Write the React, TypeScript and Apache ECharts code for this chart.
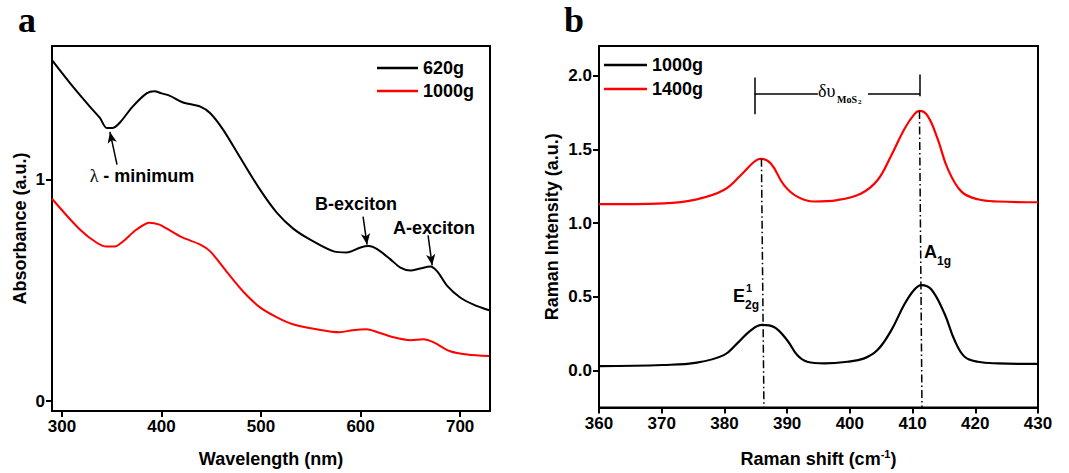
import React, { useEffect, useRef } from "react";
import * as echarts from "echarts";

// Panel a: UV-vis absorbance
const uvX620 = [290, 311, 328, 338, 345, 351, 358, 371, 385, 393, 400, 408, 421, 439, 449, 462, 479, 499, 516, 532, 549, 573, 586, 600, 608, 617, 630, 640, 650, 660, 670, 677, 687, 700, 713, 729];
const uvY620 = [1.54, 1.42, 1.33, 1.28, 1.234, 1.234, 1.257, 1.33, 1.39, 1.40, 1.39, 1.38, 1.35, 1.33, 1.30, 1.225, 1.10, 0.955, 0.85, 0.78, 0.73, 0.676, 0.671, 0.694, 0.70, 0.685, 0.64, 0.603, 0.59, 0.599, 0.608, 0.586, 0.52, 0.468, 0.437, 0.41];
const uvX1000 = [290, 318, 335, 345, 353, 361, 375, 388, 398, 405, 421, 439, 449, 466, 482, 499, 516, 532, 556, 579, 592, 606, 617, 633, 650, 663, 673, 690, 707, 729];
const uvY1000 = [0.914, 0.775, 0.715, 0.698, 0.698, 0.72, 0.775, 0.806, 0.797, 0.78, 0.739, 0.707, 0.676, 0.581, 0.495, 0.423, 0.378, 0.347, 0.324, 0.311, 0.32, 0.324, 0.311, 0.288, 0.275, 0.279, 0.266, 0.225, 0.21, 0.203];
const uvXTicks = [300, 400, 500, 600, 700];
const uvYTicks = [0, 1];

// Panel b: Raman spectra
const ramanX1000 = [360, 370.2, 375.6, 379.9, 382.0, 384.2, 386.0, 387.9, 390.0, 391.6, 393.2, 395.9, 399.6, 402.3, 404.4, 406.6, 408.7, 410.3, 411.4, 413.0, 415.1, 416.7, 418.3, 420.4, 423.6, 430];
const ramanY1000 = [0.03, 0.038, 0.054, 0.105, 0.183, 0.273, 0.31, 0.295, 0.206, 0.105, 0.06, 0.049, 0.06, 0.083, 0.139, 0.273, 0.45, 0.55, 0.58, 0.55, 0.385, 0.206, 0.094, 0.06, 0.049, 0.045];
const ramanX1400 = [360, 370.3, 375.6, 379.9, 382.6, 384.7, 385.8, 387.4, 389.5, 391.6, 394.3, 398.0, 401.8, 404.4, 406.6, 408.7, 410.3, 411.1, 412.4, 414.0, 415.6, 417.8, 420.4, 423.6, 430];
const ramanY1400 = [1.128, 1.134, 1.161, 1.224, 1.324, 1.414, 1.436, 1.403, 1.257, 1.179, 1.146, 1.156, 1.201, 1.29, 1.458, 1.638, 1.738, 1.76, 1.727, 1.57, 1.369, 1.213, 1.161, 1.146, 1.141];
const ramanYTicks = [0, 0.5, 1, 1.5, 2];

const zip = (xs: number[], ys: number[]) => xs.map((x, i) => [x, ys[i]]);

const FONT = "Liberation Sans";
const BLACK = "#000000";
const RED = "#ff0000";

function axisCommon() {
  return {
    axisLine: { show: true, onZero: false, lineStyle: { color: BLACK, width: 2 } },
    axisTick: { show: true, inside: false, length: 6, lineStyle: { color: BLACK, width: 2 } },
    splitLine: { show: false },
    axisLabel: { color: BLACK, fontWeight: "bold", fontSize: 17, fontFamily: FONT, margin: 7 },
    nameTextStyle: { color: BLACK, fontWeight: "bold", fontSize: 18, fontFamily: FONT },
    nameLocation: "middle",
  } as any;
}

const legendText = { color: BLACK, fontWeight: "bold", fontSize: 18, fontFamily: FONT, lineHeight: 18 };

export default function App() {
  const ref = useRef<HTMLDivElement>(null);
  useEffect(() => {
    if (!ref.current) return;
    const chart = echarts.init(ref.current, null, { renderer: "svg" });
    const c = axisCommon();
    const option: any = {
      animation: false,
      backgroundColor: "#ffffff",
      grid: [
        { left: 52, top: 46, width: 438, height: 366, show: true, borderColor: BLACK, borderWidth: 2, backgroundColor: "transparent" },
        { left: 599, top: 46, width: 439, height: 365, show: true, borderColor: BLACK, borderWidth: 2, backgroundColor: "transparent" },
      ],
      xAxis: [
        {
          ...c, type: "value", gridIndex: 0, min: 290, max: 730,
          axisTick: { ...c.axisTick, customValues: uvXTicks },
          axisLabel: { ...c.axisLabel, customValues: uvXTicks },
          name: "Wavelength (nm)", nameGap: 39,
        },
        {
          ...c, type: "value", gridIndex: 1, min: 360, max: 430, interval: 10,
          name: "Raman shift (cm{sup|-1})", nameGap: 41,
          nameTextStyle: { ...c.nameTextStyle, rich: { sup: { fontSize: 11, fontWeight: "bold", fontFamily: FONT, color: BLACK, verticalAlign: "top", padding: [0, 0, 10, 0] } } },
        },
      ],
      yAxis: [
        {
          ...c, type: "value", gridIndex: 0, min: -0.045, max: 1.604,
          axisTick: { ...c.axisTick, customValues: uvYTicks },
          axisLabel: { ...c.axisLabel, customValues: uvYTicks, formatter: (v: number) => String(v) },
          name: "Absorbance (a.u.)", nameGap: 23,
        },
        {
          ...c, type: "value", gridIndex: 1, min: -0.25, max: 2.2,
          axisTick: { ...c.axisTick, customValues: ramanYTicks },
          axisLabel: { ...c.axisLabel, customValues: ramanYTicks, formatter: (v: number) => v.toFixed(1) },
          name: "Raman Intensity (a.u.)", nameGap: 38,
        },
      ],
      legend: [
        {
          data: ["620g", "1000g"], orient: "vertical", left: 377, top: 59, icon: "rect", itemWidth: 41, itemHeight: 2.5, itemGap: 5, padding: 0,
          textStyle: legendText,
        },
        {
          data: ["1000g ", "1400g"], orient: "vertical", left: 604, top: 56, icon: "rect", itemWidth: 43, itemHeight: 2.5, itemGap: 6, padding: 0,
          textStyle: legendText,
        },
      ],
      series: [
        {
          name: "620g", type: "line", xAxisIndex: 0, yAxisIndex: 0, data: zip(uvX620, uvY620), smooth: 0.3, symbol: "none",
          lineStyle: { color: BLACK, width: 2 }, itemStyle: { color: BLACK },
          markLine: {
            silent: true, symbol: ["none", "arrow"], symbolSize: [7, 11], label: { show: false },
            lineStyle: { color: BLACK, width: 1.5, type: "solid" },
            data: [
              [{ coord: [355.3, 1.068] }, { coord: [348.2, 1.216] }],
              [{ coord: [602.5, 0.833] }, { coord: [606.5, 0.707] }],
              [{ coord: [667.8, 0.748] }, { coord: [671.9, 0.613] }],
            ],
          },
        },
        {
          name: "1000g", type: "line", xAxisIndex: 0, yAxisIndex: 0, data: zip(uvX1000, uvY1000), smooth: 0.3, symbol: "none",
          lineStyle: { color: RED, width: 2 }, itemStyle: { color: RED },
        },
        {
          name: "1000g ", type: "line", xAxisIndex: 1, yAxisIndex: 1, data: zip(ramanX1000, ramanY1000), smooth: 0.4, symbol: "none",
          lineStyle: { color: BLACK, width: 2.2 }, itemStyle: { color: BLACK },
          markLine: {
            silent: true, symbol: ["none", "none"], label: { show: false },
            lineStyle: { color: BLACK, width: 1.5, type: "solid" },
            data: [
              [{ coord: [385.9, 1.436], lineStyle: { type: [8, 3, 1.5, 3] } }, { coord: [386.3, -0.25] }],
              [{ coord: [411.1, 1.76], lineStyle: { type: [8, 3, 1.5, 3] } }, { coord: [411.5, -0.25] }],
              [{ coord: [384.8, 1.987] }, { coord: [384.8, 1.738] }],
              [{ coord: [411.2, 2.007] }, { coord: [411.2, 1.859] }],
              [{ coord: [384.8, 1.879] }, { coord: [394.9, 1.879] }],
              [{ coord: [402.9, 1.879] }, { coord: [411.2, 1.879] }],
            ],
          },
        },
        {
          name: "1400g", type: "line", xAxisIndex: 1, yAxisIndex: 1, data: zip(ramanX1400, ramanY1400), smooth: 0.4, symbol: "none",
          lineStyle: { color: RED, width: 2.2 }, itemStyle: { color: RED },
        },
      ],
      graphic: [
        { type: "text", x: 18, y: 38, style: { text: "a", fill: BLACK, font: 'bold 36px "Liberation Serif"', textAlign: "left", textVerticalAlign: "bottom" } },
        { type: "text", x: 564, y: 38, style: { text: "b", fill: BLACK, font: 'bold 36px "Liberation Serif"', textAlign: "left", textVerticalAlign: "bottom" } },
        {
          type: "text", x: 142, y: 176,
          style: {
            text: "{l|λ} - minimum", fill: BLACK, font: `bold 18px "${FONT}"`, textAlign: "center", textVerticalAlign: "middle",
            rich: { l: { fontFamily: "Liberation Serif", fontSize: 18, fontWeight: "normal", fill: BLACK } },
          },
        },
        { type: "text", x: 356, y: 204, style: { text: "B-exciton", fill: BLACK, font: `bold 18px "${FONT}"`, textAlign: "center", textVerticalAlign: "middle" } },
        { type: "text", x: 434, y: 228, style: { text: "A-exciton", fill: BLACK, font: `bold 18px "${FONT}"`, textAlign: "center", textVerticalAlign: "middle" } },
        { type: "text", x: 733, y: 296, style: { text: "E", fill: BLACK, font: `bold 18px "${FONT}"`, textAlign: "left", textVerticalAlign: "middle" } },
        { type: "text", x: 746, y: 288, style: { text: "1", fill: BLACK, font: `bold 11px "${FONT}"`, textAlign: "left", textVerticalAlign: "middle" } },
        { type: "text", x: 745, y: 305, style: { text: "2g", fill: BLACK, font: `bold 12px "${FONT}"`, textAlign: "left", textVerticalAlign: "middle" } },
        { type: "text", x: 924, y: 252, style: { text: "A", fill: BLACK, font: `bold 18px "${FONT}"`, textAlign: "left", textVerticalAlign: "middle" } },
        { type: "text", x: 937, y: 261, style: { text: "1g", fill: BLACK, font: `bold 12px "${FONT}"`, textAlign: "left", textVerticalAlign: "middle" } },
        { type: "text", x: 818, y: 91, style: { text: "δυ", fill: BLACK, font: '18px "Liberation Serif"', textAlign: "left", textVerticalAlign: "middle" } },
        { type: "text", x: 837, y: 99, style: { text: "MoS", fill: BLACK, font: 'bold 10px "Liberation Serif"', textAlign: "left", textVerticalAlign: "middle" } },
        { type: "text", x: 858, y: 102, style: { text: "2", fill: BLACK, font: 'bold 7px "Liberation Serif"', textAlign: "left", textVerticalAlign: "middle" } },
      ],
    };
    chart.setOption(option);
    return () => chart.dispose();
  }, []);
  return <div ref={ref} style={{ position: "fixed", left: 0, top: 0, width: 1069, height: 473, background: "#fff" }} />;
}
